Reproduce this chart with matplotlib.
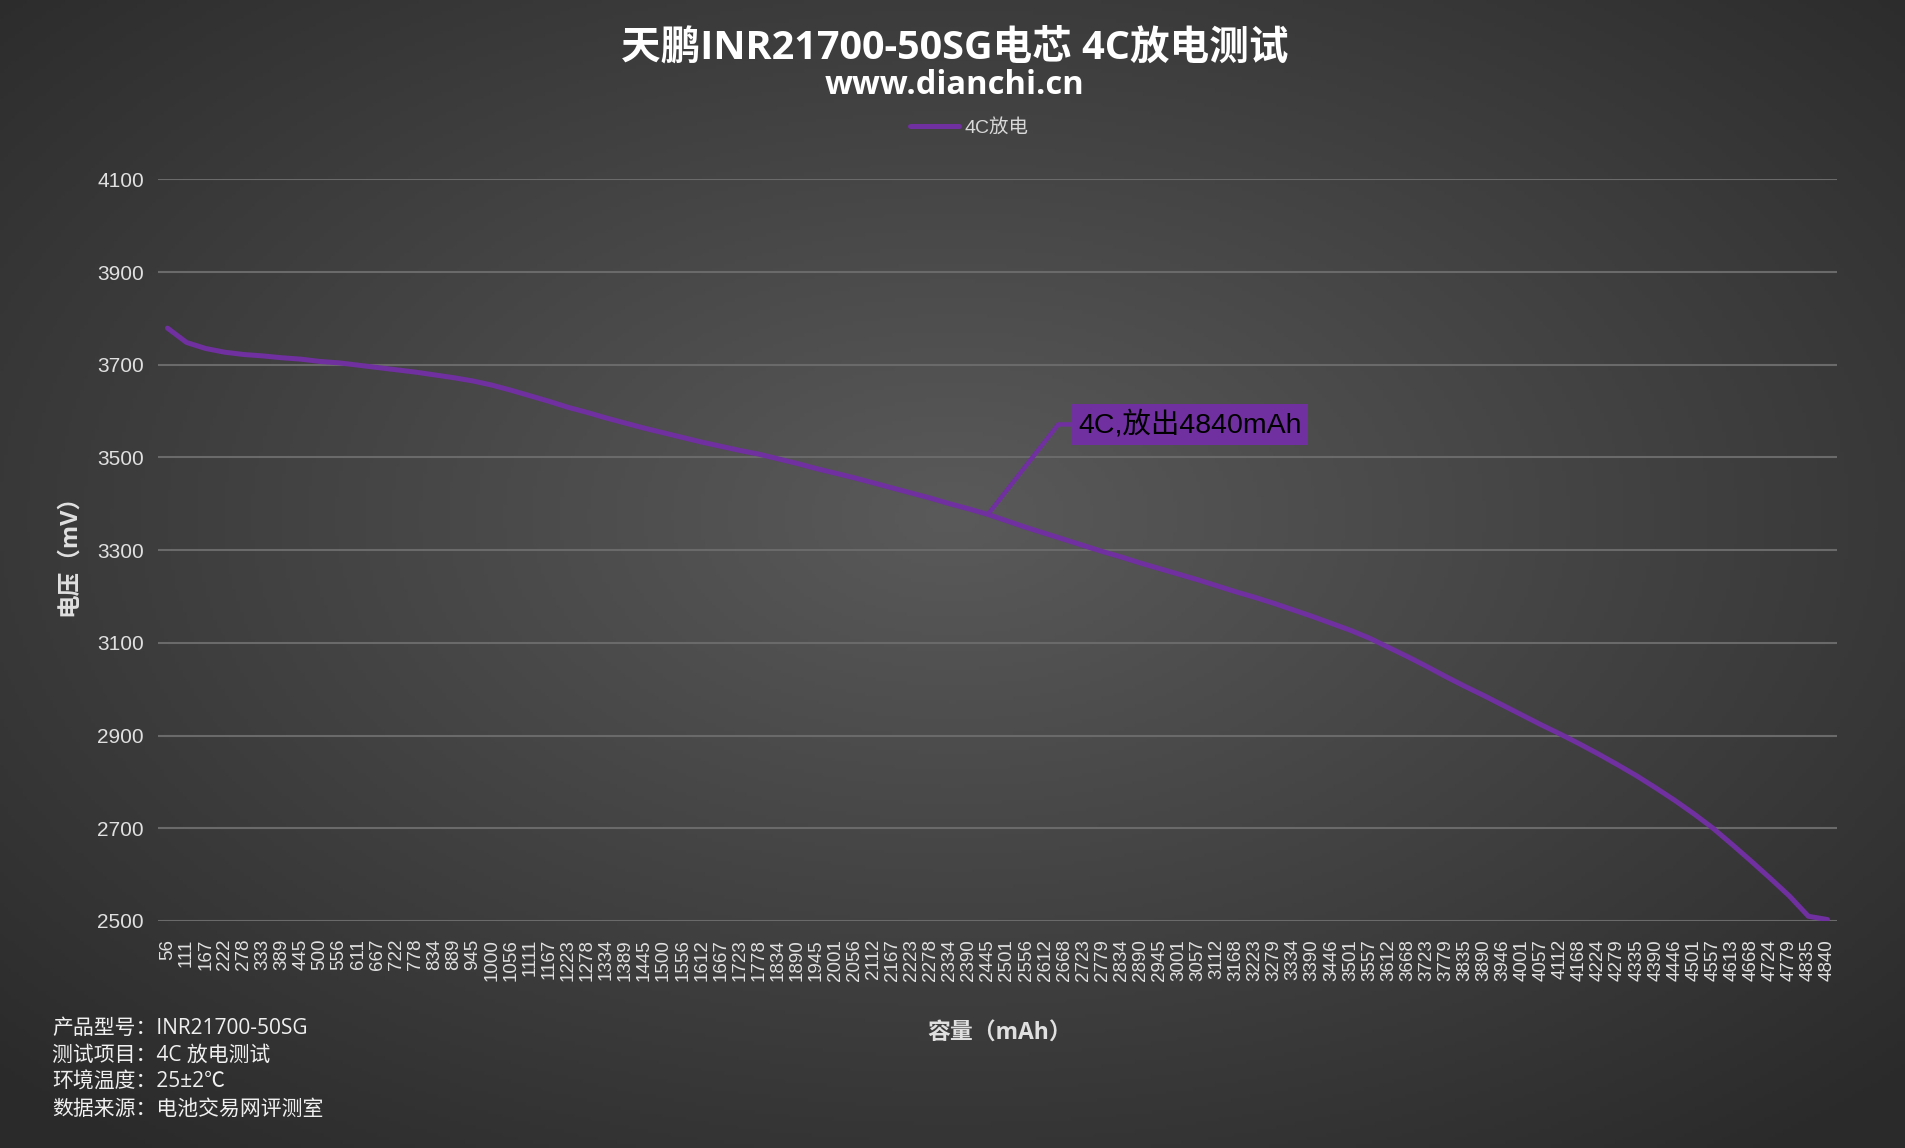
import numpy as np
import matplotlib
matplotlib.use("Agg")
from matplotlib import pyplot as plt

# 容量刻度（mAh），按类目轴显示
capacity = ["56", "111", "167", "222", "278", "333", "389", "445", "500", "556",
            "611", "667", "722", "778", "834", "889", "945", "1000", "1056", "1111",
            "1167", "1223", "1278", "1334", "1389", "1445", "1500", "1556", "1612", "1667",
            "1723", "1778", "1834", "1890", "1945", "2001", "2056", "2112", "2167", "2223",
            "2278", "2334", "2390", "2445", "2501", "2556", "2612", "2668", "2723", "2779",
            "2834", "2890", "2945", "3001", "3057", "3112", "3168", "3223", "3279", "3334",
            "3390", "3446", "3501", "3557", "3612", "3668", "3723", "3779", "3835", "3890",
            "3946", "4001", "4057", "4112", "4168", "4224", "4279", "4335", "4390", "4446",
            "4501", "4557", "4613", "4668", "4724", "4779", "4835", "4840"]

# 4C放电电压（mV）
voltage = [3779, 3748, 3735, 3727, 3722, 3719, 3715, 3712, 3707, 3704,
           3699, 3694, 3689, 3684, 3678, 3672, 3665, 3656, 3645, 3633,
           3621, 3608, 3597, 3585, 3574, 3563, 3553, 3543, 3533, 3524,
           3515, 3507, 3497, 3487, 3476, 3466, 3456, 3445, 3434, 3423,
           3412, 3400, 3389, 3377, 3363, 3349, 3336, 3323, 3310, 3297,
           3285, 3272, 3260, 3248, 3236, 3223, 3210, 3198, 3185, 3171,
           3157, 3142, 3127, 3110, 3090, 3070, 3049, 3027, 3006, 2986,
           2965, 2944, 2923, 2903, 2882, 2860, 2837, 2813, 2787, 2760,
           2731, 2700, 2665, 2629, 2592, 2554, 2510, 2503]

y_ticks = [2500, 2700, 2900, 3100, 3300, 3500, 3700, 3900, 4100]

series_name = "4C放电"
note_text = "4C,放出4840mAh"
note_index = 43   # 标注点 2445

info_lines = ["产品型号：INR21700-50SG",
              "测试项目：4C 放电测试",
              "环境温度：25±2℃",
              "数据来源：电池交易网评测室"]

purple = "#7030a0"
latin_cjk = ["Open Sans", "Noto Sans CJK SC", "DejaVu Sans"]
arial_cjk = ["Liberation Sans", "Noto Sans CJK SC"]

fig = plt.figure(figsize=(19.05, 11.48), dpi=100)

# 背景：径向渐变
bg = fig.add_axes([0, 0, 1, 1], zorder=-1)
gy, gx = np.mgrid[0:1:300j, 0:1:500j]
r = np.sqrt(((gx - 0.5) / 0.5) ** 2 + ((gy - 0.45) / 0.5) ** 2) / np.sqrt(2)
v = (90 - 48 * np.clip(r, 0, 1)) / 255.0
bg.imshow(np.dstack([v, v, v]), extent=[0, 1, 0, 1], aspect="auto", origin="upper")
bg.axis("off")

ax = fig.add_axes([0.0829, 0.1978, 0.8814, 0.6460])
ax.set_facecolor("none")
xs = np.arange(len(capacity))
line, = ax.plot(xs, voltage, color=purple, linewidth=3.6, solid_capstyle="round",
                solid_joinstyle="round", label=series_name, zorder=3)

ax.set_xlim(-0.5, len(capacity) - 0.5)
ax.set_ylim(2500, 4100)
ax.set_yticks(y_ticks)
ax.set_xticks(xs)
ax.set_xticklabels(capacity, rotation=90, fontsize=13.5, family="Liberation Sans",
                   color="#e0e0e0")
for lab in ax.get_yticklabels():
    lab.set_family("Liberation Sans")
ax.tick_params(axis="y", length=0, pad=10, labelsize=15, labelcolor="#e0e0e0")
ax.tick_params(axis="x", length=0, pad=13)
ax.grid(axis="y", color="#6a6a6a", linewidth=1.5)
ax.set_axisbelow(True)
for s in ax.spines.values():
    s.set_visible(False)

# 标注
ax.annotate(note_text, xy=(note_index, voltage[note_index]),
            xytext=(90, 90), textcoords="offset pixels",
            ha="left", va="center", fontsize=20.5, family=arial_cjk, color="black",
            bbox=dict(boxstyle="square,pad=0.22", fc=purple, ec="none"),
            arrowprops=dict(arrowstyle="-", color=purple, lw=3.2, relpos=(0, 0.5),
                            shrinkA=0, shrinkB=0,
                            connectionstyle="angle,angleA=0,angleB=52,rad=0"),
            zorder=4)

# 标题
fig.text(0.5013, 0.9585, "天鹏INR21700-50SG电芯 4C放电测试", ha="center", va="center",
         fontsize=28.5, fontweight="bold", family=latin_cjk, color="white")
fig.text(0.5013, 0.9255, "www.dianchi.cn", ha="center", va="center",
         fontsize=23.5, fontweight="bold", family=latin_cjk, color="white")

fig.legend(handles=[line], loc="center", bbox_to_anchor=(0.509, 0.8885), frameon=False,
           handlelength=2.5, handletextpad=0.3,
           prop={"family": arial_cjk, "size": 14}, labelcolor="#d8d8d8")

fig.text(0.0362, 0.521, "电压（mV）", rotation=90, ha="center", va="center",
         fontsize=17, fontweight="bold", family=latin_cjk, color="#e0e0e0")
fig.text(0.5248, 0.0993, "容量（mAh）", ha="center", va="center",
         fontsize=16.5, fontweight="bold", family=latin_cjk, color="#e0e0e0")

for i, t in enumerate(info_lines):
    fig.text(0.0273, 0.1045 - i * 0.0235, t, ha="left", va="center",
             fontsize=15, family=latin_cjk, color="#f0f0f0")

fig.savefig("out.png", dpi=100)
